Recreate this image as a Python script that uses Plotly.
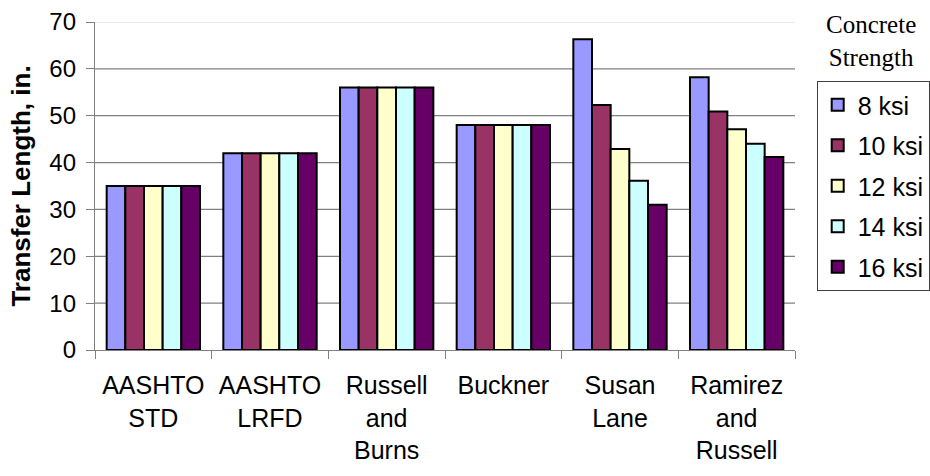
import plotly.graph_objects as go

# Transfer length predictions by method and concrete strength
methods = ["AASHTO<br>STD", "AASHTO<br>LRFD", "Russell<br>and<br>Burns",
           "Buckner", "Susan<br>Lane", "Ramirez<br>and<br>Russell"]
strength_labels = ["8 ksi", "10 ksi", "12 ksi", "14 ksi", "16 ksi"]

ksi_8 = [35, 42, 56, 48, 66.3, 58.2]
ksi_10 = [35, 42, 56, 48, 52.3, 50.9]
ksi_12 = [35, 42, 56, 48, 42.9, 47.1]
ksi_14 = [35, 42, 56, 48, 36.1, 44.0]
ksi_16 = [35, 42, 56, 48, 31.0, 41.2]

series = [ksi_8, ksi_10, ksi_12, ksi_14, ksi_16]
colors = ["#9999FF", "#993366", "#FFFFCC", "#CCFFFF", "#660066"]

y_ticks = [0, 10, 20, 30, 40, 50, 60, 70]

SANS = "Liberation Sans, Arial, sans-serif"
SERIF = "Liberation Serif, Times New Roman, serif"
AXIS_GRAY = "#808080"

fig = go.Figure()
for name, vals, col in zip(strength_labels, series, colors):
    fig.add_trace(go.Bar(
        x=methods, y=vals, name=name, legendgroup=name,
        marker=dict(color=col, line=dict(color="black", width=2)),
    ))

# horizontal grid lines at each tick; the top one is faint
shapes = []
for v in y_ticks[1:]:
    shapes.append(dict(
        type="line", xref="paper", yref="y", x0=0, x1=1, y0=v, y1=v,
        line=dict(color="#E4E4E4" if v == y_ticks[-1] else AXIS_GRAY, width=1.3),
        layer="below",
    ))

fig.update_layout(
    width=930, height=476,
    margin=dict(l=95, r=135, t=22, b=126, autoexpand=False),
    paper_bgcolor="white", plot_bgcolor="white",
    barmode="group", bargap=0.2, bargroupgap=0,
    font=dict(family=SANS, size=25, color="black"),
    shapes=shapes,
    showlegend=True,
    legend=dict(
        x=1.031, y=0.82, xanchor="left", yanchor="top",
        bordercolor="#404040", borderwidth=1,
        font=dict(family=SANS, size=25, color="black"),
        traceorder="grouped", tracegroupgap=5,
        itemclick=False, itemdoubleclick=False,
    ),
    annotations=[dict(
        text="Concrete<br>Strength", xref="paper", yref="paper",
        x=1.109, y=0.942, xanchor="center", yanchor="middle",
        showarrow=False, align="center",
        font=dict(family=SERIF, size=25, color="black"),
    )],
)

fig.update_xaxes(
    showline=True, linecolor=AXIS_GRAY, linewidth=1.3,
    ticks="outside", tickson="boundaries", ticklen=8, tickcolor=AXIS_GRAY,
    tickwidth=1.3, tickfont=dict(family=SANS, size=25, color="black"),
    ticklabelstandoff=13, showgrid=False,
)
fig.update_yaxes(
    range=[0, 70], tickvals=y_ticks, showgrid=False, zeroline=False,
    showline=True, linecolor=AXIS_GRAY, linewidth=1.3,
    ticks="outside", ticklen=8, tickcolor=AXIS_GRAY, tickwidth=1.3,
    tickfont=dict(family=SANS, size=24, color="black"),
    ticklabelstandoff=5,
    title=dict(text="<b>Transfer Length, in.</b>", standoff=11,
               font=dict(family=SANS, size=26, color="black")),
)

fig.write_html("out.html")
